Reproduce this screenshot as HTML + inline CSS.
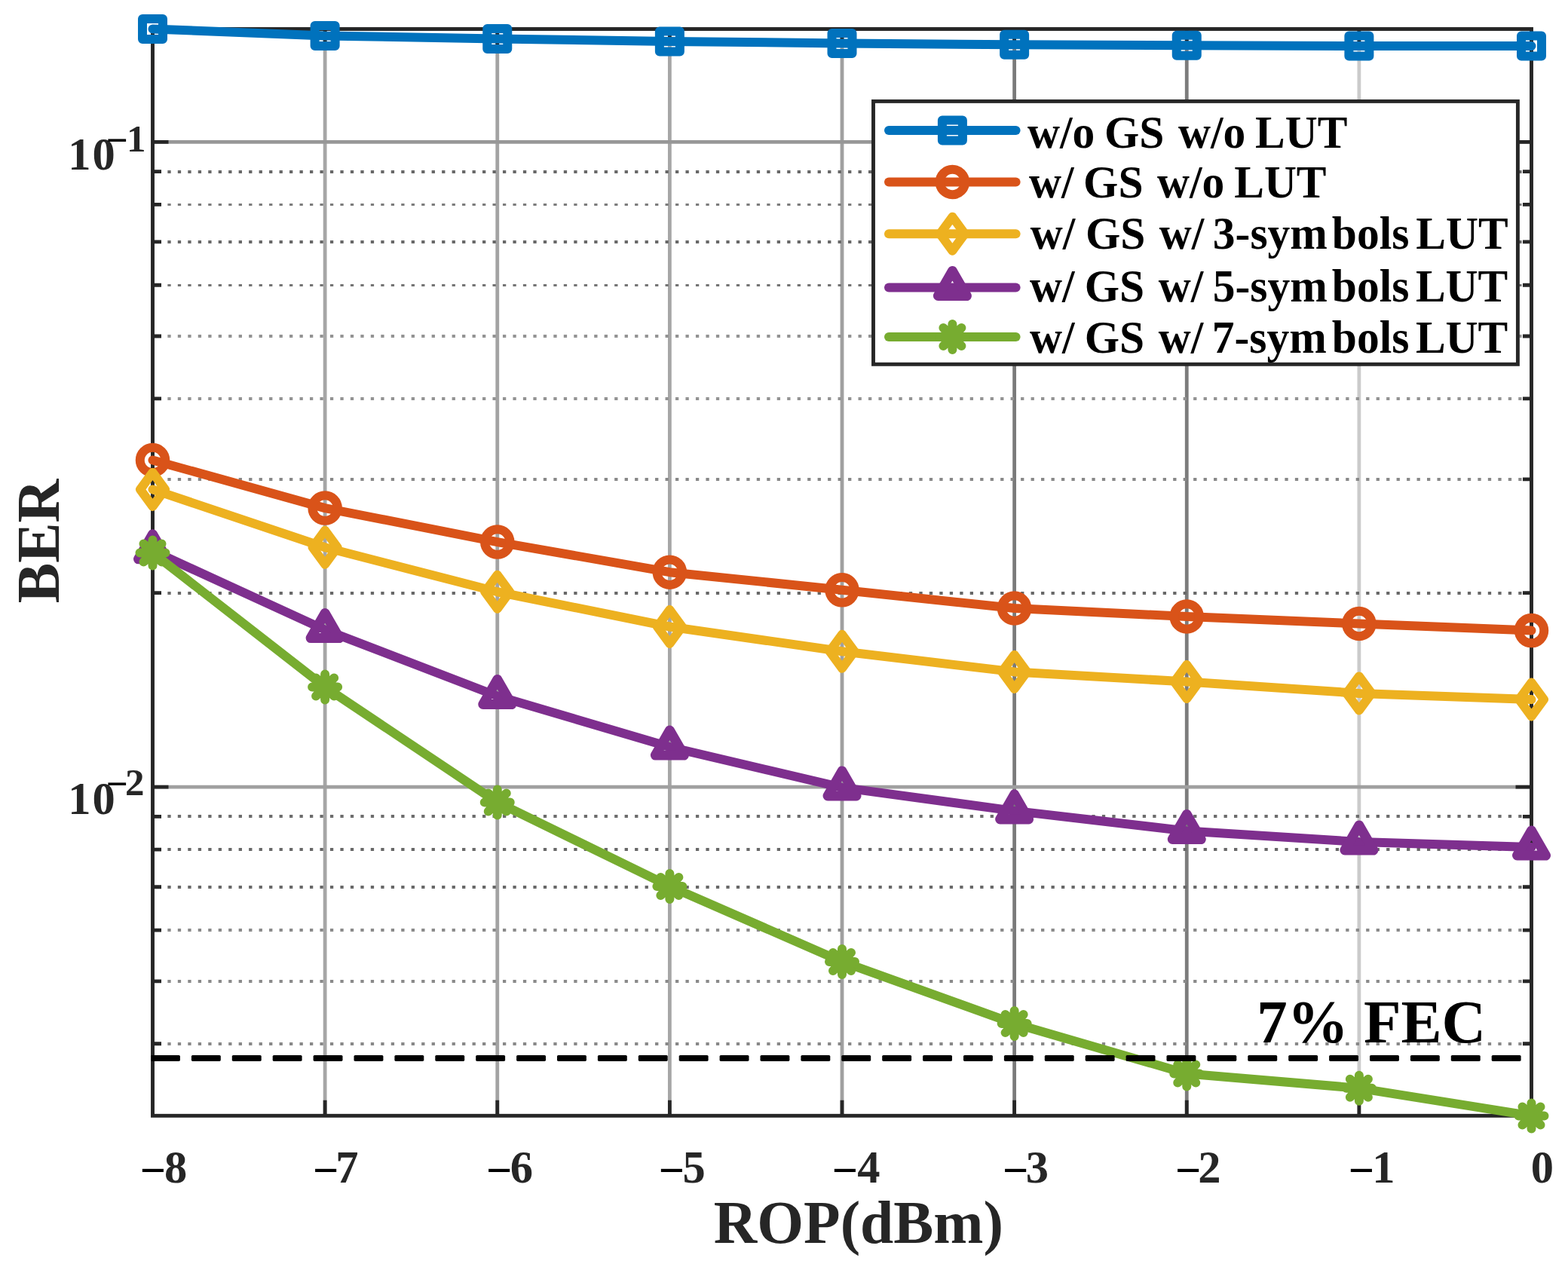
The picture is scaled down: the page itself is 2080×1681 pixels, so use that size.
<!DOCTYPE html><html><head><meta charset="utf-8"><style>html,body{margin:0;padding:0;background:#fff;}svg{display:block;}text{font-family:"Liberation Serif","Times New Roman",serif;font-weight:bold;}</style></head><body>
<svg width="2080" height="1681" viewBox="0 0 2080 1681">
<rect x="0" y="0" width="2080" height="1681" fill="#fff"/>
<line x1="431.12" y1="38.5" x2="431.12" y2="1480.3" stroke="#a6a6a6" stroke-width="4.8"/>
<line x1="659.75" y1="38.5" x2="659.75" y2="1480.3" stroke="#a3a3a3" stroke-width="4.8"/>
<line x1="888.38" y1="38.5" x2="888.38" y2="1480.3" stroke="#a6a6a6" stroke-width="4.8"/>
<line x1="1117.00" y1="38.5" x2="1117.00" y2="1480.3" stroke="#a0a0a0" stroke-width="4.8"/>
<line x1="1345.62" y1="38.5" x2="1345.62" y2="1480.3" stroke="#7a7a7a" stroke-width="4.8"/>
<line x1="1574.25" y1="38.5" x2="1574.25" y2="1480.3" stroke="#7c7c7c" stroke-width="4.8"/>
<line x1="1802.88" y1="38.5" x2="1802.88" y2="1480.3" stroke="#cbcbcb" stroke-width="4.8"/>
<line x1="202.5" y1="188.4" x2="2031.5" y2="188.4" stroke="#979797" stroke-width="4.8"/>
<line x1="202.5" y1="1044.2" x2="2031.5" y2="1044.2" stroke="#a0a0a0" stroke-width="4.8"/>
<line x1="202.5" y1="228" x2="2031.5" y2="228" stroke="#686868" stroke-width="4" stroke-dasharray="4.3 9.173" stroke-dashoffset="7.096"/>
<line x1="202.5" y1="271.5" x2="2031.5" y2="271.5" stroke="#7c7c7c" stroke-width="3" stroke-dasharray="4.3 9.173" stroke-dashoffset="7.096"/>
<line x1="202.5" y1="321" x2="2031.5" y2="321" stroke="#686868" stroke-width="4" stroke-dasharray="4.3 9.173" stroke-dashoffset="7.096"/>
<line x1="202.5" y1="378.5" x2="2031.5" y2="378.5" stroke="#747474" stroke-width="3" stroke-dasharray="4.3 9.173" stroke-dashoffset="7.096"/>
<line x1="202.5" y1="446" x2="2031.5" y2="446" stroke="#939393" stroke-width="4" stroke-dasharray="4.3 9.173" stroke-dashoffset="7.096"/>
<line x1="202.5" y1="529" x2="2031.5" y2="529" stroke="#939393" stroke-width="4" stroke-dasharray="4.3 9.173" stroke-dashoffset="7.096"/>
<line x1="202.5" y1="636" x2="2031.5" y2="636" stroke="#888888" stroke-width="4" stroke-dasharray="4.3 9.173" stroke-dashoffset="7.096"/>
<line x1="202.5" y1="787" x2="2031.5" y2="787" stroke="#686868" stroke-width="4" stroke-dasharray="4.3 9.173" stroke-dashoffset="7.096"/>
<line x1="202.5" y1="1083" x2="2031.5" y2="1083" stroke="#6c6c6c" stroke-width="4" stroke-dasharray="4.3 9.173" stroke-dashoffset="7.096"/>
<line x1="202.5" y1="1127" x2="2031.5" y2="1127" stroke="#686868" stroke-width="4" stroke-dasharray="4.3 9.173" stroke-dashoffset="7.096"/>
<line x1="202.5" y1="1177" x2="2031.5" y2="1177" stroke="#686868" stroke-width="4" stroke-dasharray="4.3 9.173" stroke-dashoffset="7.096"/>
<line x1="202.5" y1="1234" x2="2031.5" y2="1234" stroke="#8a8a8a" stroke-width="4" stroke-dasharray="4.3 9.173" stroke-dashoffset="7.096"/>
<line x1="202.5" y1="1302" x2="2031.5" y2="1302" stroke="#8a8a8a" stroke-width="4" stroke-dasharray="4.3 9.173" stroke-dashoffset="7.096"/>
<line x1="202.5" y1="1385" x2="2031.5" y2="1385" stroke="#888888" stroke-width="4" stroke-dasharray="4.3 9.173" stroke-dashoffset="7.096"/>
<path d="M431.12 1480.3V1459.80M431.12 38.5V59.00M659.75 1480.3V1459.80M659.75 38.5V59.00M888.38 1480.3V1459.80M888.38 38.5V59.00M1117.00 1480.3V1459.80M1117.00 38.5V59.00M1345.62 1480.3V1459.80M1345.62 38.5V59.00M1574.25 1480.3V1459.80M1574.25 38.5V59.00M1802.88 1480.3V1459.80M1802.88 38.5V59.00M202.5 188.40H223.50M2031.5 188.40H2010.50M202.5 1044.20H223.50M2031.5 1044.20H2010.50M202.5 227.56H214.00M2031.5 227.56H2020.00M202.5 271.34H214.00M2031.5 271.34H2020.00M202.5 320.97H214.00M2031.5 320.97H2020.00M202.5 378.26H214.00M2031.5 378.26H2020.00M202.5 446.02H214.00M2031.5 446.02H2020.00M202.5 528.96H214.00M2031.5 528.96H2020.00M202.5 635.88H214.00M2031.5 635.88H2020.00M202.5 786.58H214.00M2031.5 786.58H2020.00M202.5 1083.36H214.00M2031.5 1083.36H2020.00M202.5 1127.14H214.00M2031.5 1127.14H2020.00M202.5 1176.77H214.00M2031.5 1176.77H2020.00M202.5 1234.06H214.00M2031.5 1234.06H2020.00M202.5 1301.82H214.00M2031.5 1301.82H2020.00M202.5 1384.76H214.00M2031.5 1384.76H2020.00" stroke="#262626" stroke-width="4.8" fill="none"/>
<rect x="202.5" y="38.5" width="1829.0" height="1441.8" fill="none" stroke="#262626" stroke-width="4.9"/>
<polyline points="202.50,38.50 431.12,47.50 659.75,51.40 888.38,55.00 1117.00,57.40 1345.62,59.30 1574.25,60.20 1802.88,61.10 2031.50,61.10" fill="none" stroke="#0072BD" stroke-width="12" stroke-linejoin="round" stroke-linecap="round"/>
<rect x="189.00" y="25.00" width="27.0" height="27.0" fill="none" stroke="#0072BD" stroke-width="12" stroke-linejoin="round" stroke-linecap="round"/>
<rect x="417.62" y="34.00" width="27.0" height="27.0" fill="none" stroke="#0072BD" stroke-width="12" stroke-linejoin="round" stroke-linecap="round"/>
<rect x="646.25" y="37.90" width="27.0" height="27.0" fill="none" stroke="#0072BD" stroke-width="12" stroke-linejoin="round" stroke-linecap="round"/>
<rect x="874.88" y="41.50" width="27.0" height="27.0" fill="none" stroke="#0072BD" stroke-width="12" stroke-linejoin="round" stroke-linecap="round"/>
<rect x="1103.50" y="43.90" width="27.0" height="27.0" fill="none" stroke="#0072BD" stroke-width="12" stroke-linejoin="round" stroke-linecap="round"/>
<rect x="1332.12" y="45.80" width="27.0" height="27.0" fill="none" stroke="#0072BD" stroke-width="12" stroke-linejoin="round" stroke-linecap="round"/>
<rect x="1560.75" y="46.70" width="27.0" height="27.0" fill="none" stroke="#0072BD" stroke-width="12" stroke-linejoin="round" stroke-linecap="round"/>
<rect x="1789.38" y="47.60" width="27.0" height="27.0" fill="none" stroke="#0072BD" stroke-width="12" stroke-linejoin="round" stroke-linecap="round"/>
<rect x="2018.00" y="47.60" width="27.0" height="27.0" fill="none" stroke="#0072BD" stroke-width="12" stroke-linejoin="round" stroke-linecap="round"/>
<polyline points="202.50,610.50 431.12,674.10 659.75,719.10 888.38,759.20 1117.00,782.80 1345.62,807.00 1574.25,818.00 1802.88,827.50 2031.50,836.60" fill="none" stroke="#D95319" stroke-width="12" stroke-linejoin="round" stroke-linecap="round"/>
<circle cx="202.50" cy="610.50" r="16.75" fill="none" stroke="#D95319" stroke-width="12" stroke-linejoin="round" stroke-linecap="round"/>
<circle cx="431.12" cy="674.10" r="16.75" fill="none" stroke="#D95319" stroke-width="12" stroke-linejoin="round" stroke-linecap="round"/>
<circle cx="659.75" cy="719.10" r="16.75" fill="none" stroke="#D95319" stroke-width="12" stroke-linejoin="round" stroke-linecap="round"/>
<circle cx="888.38" cy="759.20" r="16.75" fill="none" stroke="#D95319" stroke-width="12" stroke-linejoin="round" stroke-linecap="round"/>
<circle cx="1117.00" cy="782.80" r="16.75" fill="none" stroke="#D95319" stroke-width="12" stroke-linejoin="round" stroke-linecap="round"/>
<circle cx="1345.62" cy="807.00" r="16.75" fill="none" stroke="#D95319" stroke-width="12" stroke-linejoin="round" stroke-linecap="round"/>
<circle cx="1574.25" cy="818.00" r="16.75" fill="none" stroke="#D95319" stroke-width="12" stroke-linejoin="round" stroke-linecap="round"/>
<circle cx="1802.88" cy="827.50" r="16.75" fill="none" stroke="#D95319" stroke-width="12" stroke-linejoin="round" stroke-linecap="round"/>
<circle cx="2031.50" cy="836.60" r="16.75" fill="none" stroke="#D95319" stroke-width="12" stroke-linejoin="round" stroke-linecap="round"/>
<polyline points="202.50,649.40 431.12,726.30 659.75,785.25 888.38,831.50 1117.00,864.30 1345.62,891.40 1574.25,904.50 1802.88,919.90 2031.50,928.00" fill="none" stroke="#EDB120" stroke-width="12" stroke-linejoin="round" stroke-linecap="round"/>
<path d="M202.50 626.90L219.00 649.40L202.50 671.90L186.00 649.40Z" fill="none" stroke="#EDB120" stroke-width="12" stroke-linejoin="round" stroke-linecap="round"/>
<path d="M431.12 703.80L447.62 726.30L431.12 748.80L414.62 726.30Z" fill="none" stroke="#EDB120" stroke-width="12" stroke-linejoin="round" stroke-linecap="round"/>
<path d="M659.75 762.75L676.25 785.25L659.75 807.75L643.25 785.25Z" fill="none" stroke="#EDB120" stroke-width="12" stroke-linejoin="round" stroke-linecap="round"/>
<path d="M888.38 809.00L904.88 831.50L888.38 854.00L871.88 831.50Z" fill="none" stroke="#EDB120" stroke-width="12" stroke-linejoin="round" stroke-linecap="round"/>
<path d="M1117.00 841.80L1133.50 864.30L1117.00 886.80L1100.50 864.30Z" fill="none" stroke="#EDB120" stroke-width="12" stroke-linejoin="round" stroke-linecap="round"/>
<path d="M1345.62 868.90L1362.12 891.40L1345.62 913.90L1329.12 891.40Z" fill="none" stroke="#EDB120" stroke-width="12" stroke-linejoin="round" stroke-linecap="round"/>
<path d="M1574.25 882.00L1590.75 904.50L1574.25 927.00L1557.75 904.50Z" fill="none" stroke="#EDB120" stroke-width="12" stroke-linejoin="round" stroke-linecap="round"/>
<path d="M1802.88 897.40L1819.38 919.90L1802.88 942.40L1786.38 919.90Z" fill="none" stroke="#EDB120" stroke-width="12" stroke-linejoin="round" stroke-linecap="round"/>
<path d="M2031.50 905.50L2048.00 928.00L2031.50 950.50L2015.00 928.00Z" fill="none" stroke="#EDB120" stroke-width="12" stroke-linejoin="round" stroke-linecap="round"/>
<polyline points="202.50,730.80 431.12,835.60 659.75,923.50 888.38,991.10 1117.00,1044.90 1345.62,1075.90 1574.25,1102.50 1802.88,1117.00 2031.50,1124.00" fill="none" stroke="#7E2F8E" stroke-width="12" stroke-linejoin="round" stroke-linecap="round"/>
<path d="M202.50 708.80L221.50 741.80L183.50 741.80Z" fill="none" stroke="#7E2F8E" stroke-width="13" stroke-linejoin="round" stroke-linecap="round"/>
<path d="M431.12 813.60L450.12 846.60L412.12 846.60Z" fill="none" stroke="#7E2F8E" stroke-width="13" stroke-linejoin="round" stroke-linecap="round"/>
<path d="M659.75 901.50L678.75 934.50L640.75 934.50Z" fill="none" stroke="#7E2F8E" stroke-width="13" stroke-linejoin="round" stroke-linecap="round"/>
<path d="M888.38 969.10L907.38 1002.10L869.38 1002.10Z" fill="none" stroke="#7E2F8E" stroke-width="13" stroke-linejoin="round" stroke-linecap="round"/>
<path d="M1117.00 1022.90L1136.00 1055.90L1098.00 1055.90Z" fill="none" stroke="#7E2F8E" stroke-width="13" stroke-linejoin="round" stroke-linecap="round"/>
<path d="M1345.62 1053.90L1364.62 1086.90L1326.62 1086.90Z" fill="none" stroke="#7E2F8E" stroke-width="13" stroke-linejoin="round" stroke-linecap="round"/>
<path d="M1574.25 1080.50L1593.25 1113.50L1555.25 1113.50Z" fill="none" stroke="#7E2F8E" stroke-width="13" stroke-linejoin="round" stroke-linecap="round"/>
<path d="M1802.88 1095.00L1821.88 1128.00L1783.88 1128.00Z" fill="none" stroke="#7E2F8E" stroke-width="13" stroke-linejoin="round" stroke-linecap="round"/>
<path d="M2031.50 1102.00L2050.50 1135.00L2012.50 1135.00Z" fill="none" stroke="#7E2F8E" stroke-width="13" stroke-linejoin="round" stroke-linecap="round"/>
<polyline points="202.50,733.40 431.12,911.40 659.75,1064.40 888.38,1175.90 1117.00,1275.90 1345.62,1358.10 1574.25,1424.40 1802.88,1443.80 2031.50,1480.40" fill="none" stroke="#77AC30" stroke-width="12" stroke-linejoin="round" stroke-linecap="round"/>
<path d="M185.50 733.40H219.50M202.50 716.40V750.40M190.48 721.38L214.52 745.42M190.48 745.42L214.52 721.38" fill="none" stroke="#77AC30" stroke-width="12" stroke-linejoin="round" stroke-linecap="round"/>
<path d="M414.12 911.40H448.12M431.12 894.40V928.40M419.10 899.38L443.15 923.42M419.10 923.42L443.15 899.38" fill="none" stroke="#77AC30" stroke-width="12" stroke-linejoin="round" stroke-linecap="round"/>
<path d="M642.75 1064.40H676.75M659.75 1047.40V1081.40M647.73 1052.38L671.77 1076.42M647.73 1076.42L671.77 1052.38" fill="none" stroke="#77AC30" stroke-width="12" stroke-linejoin="round" stroke-linecap="round"/>
<path d="M871.38 1175.90H905.38M888.38 1158.90V1192.90M876.35 1163.88L900.40 1187.92M876.35 1187.92L900.40 1163.88" fill="none" stroke="#77AC30" stroke-width="12" stroke-linejoin="round" stroke-linecap="round"/>
<path d="M1100.00 1275.90H1134.00M1117.00 1258.90V1292.90M1104.98 1263.88L1129.02 1287.92M1104.98 1287.92L1129.02 1263.88" fill="none" stroke="#77AC30" stroke-width="12" stroke-linejoin="round" stroke-linecap="round"/>
<path d="M1328.62 1358.10H1362.62M1345.62 1341.10V1375.10M1333.60 1346.08L1357.65 1370.12M1333.60 1370.12L1357.65 1346.08" fill="none" stroke="#77AC30" stroke-width="12" stroke-linejoin="round" stroke-linecap="round"/>
<path d="M1557.25 1424.40H1591.25M1574.25 1407.40V1441.40M1562.23 1412.38L1586.27 1436.42M1562.23 1436.42L1586.27 1412.38" fill="none" stroke="#77AC30" stroke-width="12" stroke-linejoin="round" stroke-linecap="round"/>
<path d="M1785.88 1443.80H1819.88M1802.88 1426.80V1460.80M1790.85 1431.78L1814.90 1455.82M1790.85 1455.82L1814.90 1431.78" fill="none" stroke="#77AC30" stroke-width="12" stroke-linejoin="round" stroke-linecap="round"/>
<path d="M2014.50 1480.40H2048.50M2031.50 1463.40V1497.40M2019.48 1468.38L2043.52 1492.42M2019.48 1492.42L2043.52 1468.38" fill="none" stroke="#77AC30" stroke-width="12" stroke-linejoin="round" stroke-linecap="round"/>
<g fill="#000"><rect x="200.00" y="1399.95" width="38.90" height="8" rx="1.6"/><rect x="253.90" y="1399.95" width="38.90" height="8" rx="1.6"/><rect x="307.80" y="1399.95" width="38.90" height="8" rx="1.6"/><rect x="361.70" y="1399.95" width="38.90" height="8" rx="1.6"/><rect x="415.60" y="1399.95" width="38.90" height="8" rx="1.6"/><rect x="469.50" y="1399.95" width="38.90" height="8" rx="1.6"/><rect x="523.40" y="1399.95" width="38.90" height="8" rx="1.6"/><rect x="577.30" y="1399.95" width="38.90" height="8" rx="1.6"/><rect x="631.20" y="1399.95" width="38.90" height="8" rx="1.6"/><rect x="685.10" y="1399.95" width="38.90" height="8" rx="1.6"/><rect x="739.00" y="1399.95" width="38.90" height="8" rx="1.6"/><rect x="792.90" y="1399.95" width="38.90" height="8" rx="1.6"/><rect x="846.80" y="1399.95" width="38.90" height="8" rx="1.6"/><rect x="900.70" y="1399.95" width="38.90" height="8" rx="1.6"/><rect x="954.60" y="1399.95" width="38.90" height="8" rx="1.6"/><rect x="1008.50" y="1399.95" width="38.90" height="8" rx="1.6"/><rect x="1062.40" y="1399.95" width="38.90" height="8" rx="1.6"/><rect x="1116.30" y="1399.95" width="38.90" height="8" rx="1.6"/><rect x="1170.20" y="1399.95" width="38.90" height="8" rx="1.6"/><rect x="1224.10" y="1399.95" width="38.90" height="8" rx="1.6"/><rect x="1278.00" y="1399.95" width="38.90" height="8" rx="1.6"/><rect x="1331.90" y="1399.95" width="38.90" height="8" rx="1.6"/><rect x="1385.80" y="1399.95" width="38.90" height="8" rx="1.6"/><rect x="1439.70" y="1399.95" width="38.90" height="8" rx="1.6"/><rect x="1493.60" y="1399.95" width="38.90" height="8" rx="1.6"/><rect x="1547.50" y="1399.95" width="38.90" height="8" rx="1.6"/><rect x="1601.40" y="1399.95" width="38.90" height="8" rx="1.6"/><rect x="1655.30" y="1399.95" width="38.90" height="8" rx="1.6"/><rect x="1709.20" y="1399.95" width="38.90" height="8" rx="1.6"/><rect x="1763.10" y="1399.95" width="38.90" height="8" rx="1.6"/><rect x="1817.00" y="1399.95" width="38.90" height="8" rx="1.6"/><rect x="1870.90" y="1399.95" width="38.90" height="8" rx="1.6"/><rect x="1924.80" y="1399.95" width="38.90" height="8" rx="1.6"/><rect x="1978.70" y="1399.95" width="38.90" height="8" rx="1.6"/></g>
<text x="1667.37" y="1382.5" font-size="81" fill="#000" xml:space="preserve">7% FEC</text>
<rect x="1158.5" y="134.4" width="854.9000000000001" height="348.9" fill="#fff" stroke="#262626" stroke-width="4.9"/>
<line x1="1179" y1="173.1" x2="1347.6" y2="173.1" stroke="#0072BD" stroke-width="12" stroke-linecap="round"/>
<rect x="1249.90" y="159.60" width="27.0" height="27.0" fill="none" stroke="#0072BD" stroke-width="12" stroke-linejoin="round" stroke-linecap="round"/>
<text transform="scale(0.976,1)" y="196.3" font-size="61.0" fill="#000" xml:space="preserve"><tspan x="1396.54">w/o </tspan><tspan x="1501.02">GS </tspan><tspan x="1601.36">w/o </tspan><tspan x="1706.03">LUT</tspan></text>
<line x1="1179" y1="241.5" x2="1347.6" y2="241.5" stroke="#D95319" stroke-width="12" stroke-linecap="round"/>
<circle cx="1263.40" cy="241.50" r="16.75" fill="none" stroke="#D95319" stroke-width="12" stroke-linejoin="round" stroke-linecap="round"/>
<text transform="scale(0.976,1)" y="262.3" font-size="61.0" fill="#000" xml:space="preserve"><tspan x="1398.69">w/ </tspan><tspan x="1472.43">GS </tspan><tspan x="1572.77">w/o </tspan><tspan x="1677.44">LUT</tspan></text>
<line x1="1179" y1="310.2" x2="1347.6" y2="310.2" stroke="#EDB120" stroke-width="12" stroke-linecap="round"/>
<path d="M1263.40 287.70L1279.90 310.20L1263.40 332.70L1246.90 310.20Z" fill="none" stroke="#EDB120" stroke-width="12" stroke-linejoin="round" stroke-linecap="round"/>
<text transform="scale(0.976,1)" y="329.9" font-size="61.0" fill="#000" xml:space="preserve"><tspan x="1400.44">w/ </tspan><tspan x="1475.30">GS </tspan><tspan x="1575.64">w/ </tspan><tspan x="1648.42">3-sym</tspan><tspan x="1810.29">bols </tspan><tspan x="1924.57">LUT</tspan></text>
<line x1="1179" y1="381.5" x2="1347.6" y2="381.5" stroke="#7E2F8E" stroke-width="12" stroke-linecap="round"/>
<path d="M1263.40 359.50L1282.40 392.50L1244.40 392.50Z" fill="none" stroke="#7E2F8E" stroke-width="13" stroke-linejoin="round" stroke-linecap="round"/>
<text transform="scale(0.976,1)" y="399.8" font-size="61.0" fill="#000" xml:space="preserve"><tspan x="1399.51">w/ </tspan><tspan x="1474.17">GS </tspan><tspan x="1574.62">w/ </tspan><tspan x="1648.27">5-sym</tspan><tspan x="1810.29">bols </tspan><tspan x="1924.06">LUT</tspan></text>
<line x1="1179" y1="447.0" x2="1347.6" y2="447.0" stroke="#77AC30" stroke-width="12" stroke-linecap="round"/>
<path d="M1246.40 447.00H1280.40M1263.40 430.00V464.00M1251.38 434.98L1275.42 459.02M1251.38 459.02L1275.42 434.98" fill="none" stroke="#77AC30" stroke-width="12" stroke-linejoin="round" stroke-linecap="round"/>
<text transform="scale(0.976,1)" y="467.7" font-size="61.0" fill="#000" xml:space="preserve"><tspan x="1399.51">w/ </tspan><tspan x="1474.17">GS </tspan><tspan x="1574.62">w/ </tspan><tspan x="1647.23">7-sym</tspan><tspan x="1810.29">bols </tspan><tspan x="1924.06">LUT</tspan></text>
<text y="1569" font-size="60.5" fill="#262626"><tspan x="185.81" dy="3.5" fill="#000">−</tspan><tspan x="217.99" dy="-3.5">8</tspan></text>
<text y="1569" font-size="60.5" fill="#262626"><tspan x="414.91" dy="3.5" fill="#000">−</tspan><tspan x="445.34" dy="-3.5">7</tspan></text>
<text y="1569" font-size="60.5" fill="#262626"><tspan x="644.91" dy="3.5" fill="#000">−</tspan><tspan x="676.73" dy="-3.5">6</tspan></text>
<text y="1569" font-size="60.5" fill="#262626"><tspan x="873.81" dy="3.5" fill="#000">−</tspan><tspan x="905.38" dy="-3.5">5</tspan></text>
<text y="1569" font-size="60.5" fill="#262626"><tspan x="1103.81" dy="3.5" fill="#000">−</tspan><tspan x="1137.17" dy="-3.5">4</tspan></text>
<text y="1569" font-size="60.5" fill="#262626"><tspan x="1329.91" dy="3.5" fill="#000">−</tspan><tspan x="1360.63" dy="-3.5">3</tspan></text>
<text y="1569" font-size="60.5" fill="#262626"><tspan x="1558.91" dy="3.5" fill="#000">−</tspan><tspan x="1589.36" dy="-3.5">2</tspan></text>
<text y="1569" font-size="60.5" fill="#262626"><tspan x="1788.81" dy="3.5" fill="#000">−</tspan><tspan x="1820.16" dy="-3.5">1</tspan></text>
<text x="2030.80" y="1569" font-size="60.5" fill="#262626">0</text>
<text x="90.25" y="224.6" font-size="60.5" fill="#262626">1<tspan dx="2">0</tspan></text>
<text x="140.5" y="202.8" font-size="51" fill="#000">−</text>
<text x="167.9" y="200.8" font-size="51" fill="#262626">1</text>
<text x="90.25" y="1079.5" font-size="60.5" fill="#262626">1<tspan dx="2">0</tspan></text>
<text x="140.5" y="1056.8" font-size="51" fill="#000">−</text>
<text x="166.1" y="1054.8" font-size="51" fill="#262626">2</text>
<text x="946.83" y="1648.7" font-size="79.5" fill="#262626">ROP(dBm)</text>
<text transform="translate(78.1,800.23) rotate(-90)" x="0" y="0" font-size="80" fill="#262626">BER</text>
</svg></body></html>
